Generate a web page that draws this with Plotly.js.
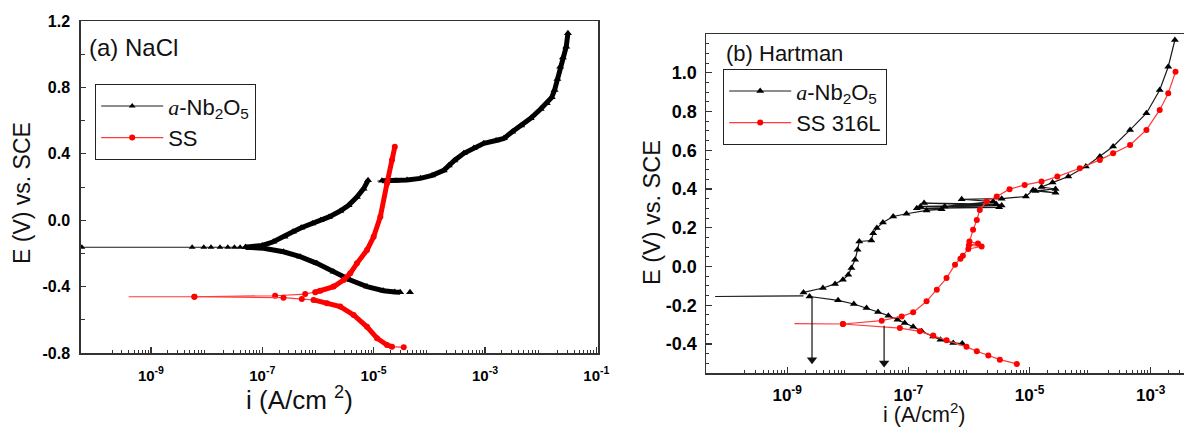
<!DOCTYPE html>
<html>
<head>
<meta charset="utf-8">
<script src="https://cdn.plot.ly/plotly-3.0.1.min.js"></script>
<style>html,body{margin:0;padding:0;background:#fff;}#chart{width:1184px;height:430px;}</style>
</head>
<body>
<div id="chart"></div>
<script>
// ---------------- Panel (a) NaCl : a-Nb2O5 (black) ----------------
const aNbSparseI = [5.75e-11, 5.5e-9, 8.9e-9, 1.2e-8, 1.74e-8, 2.4e-8, 3.16e-8, 4e-8, 5e-8];
const aNbSparseE = [-0.163, -0.163, -0.163, -0.163, -0.163, -0.163, -0.163, -0.163, -0.163];
const aNbAnoI = [5e-8, 1e-7, 1.58e-7, 2.51e-7, 3.55e-7, 5e-7, 7.94e-7, 1.12e-6, 1.58e-6, 2.51e-6, 3.55e-6, 5e-6, 6.61e-6, 7.94e-6];
const aNbAnoE = [-0.163, -0.152, -0.13, -0.1, -0.07, -0.045, -0.02, 0.0, 0.02, 0.055, 0.09, 0.14, 0.19, 0.24];
const aNbCathI = [5e-8, 1.05e-7, 2.4e-7, 4.79e-7, 9.55e-7, 1.91e-6, 3.8e-6, 7.59e-6, 1.51e-5, 2.4e-5, 3.0e-5, null, 4.5e-5];
const aNbCathE = [-0.163, -0.169, -0.19, -0.22, -0.26, -0.31, -0.36, -0.40, -0.425, -0.432, -0.434, null, -0.434];
const aNbJumpI = [1.17e-5, 1.41e-5];
const aNbJumpE = [0.236, 0.237];
const aNbPassI = [1.41e-5, 2.51e-5, 3.98e-5, 6.92e-5, 1.12e-4, 1.82e-4, 2.24e-4, 2.82e-4, 4.17e-4, 6.31e-4, 9.55e-4, 1.58e-3, 2.19e-3, 3.09e-3, 4.47e-3, 6.61e-3, 1e-2, 1.29e-2, 1.58e-2, 1.78e-2, 2.0e-2, 2.24e-2, 2.51e-2, 2.88e-2, 3.09e-2];
const aNbPassE = [0.237, 0.238, 0.242, 0.252, 0.27, 0.30, 0.33, 0.36, 0.403, 0.435, 0.463, 0.48, 0.493, 0.533, 0.57, 0.614, 0.67, 0.704, 0.74, 0.784, 0.85, 0.925, 0.98, 1.045, 1.126];

// ---------------- Panel (a) NaCl : SS (red) ----------------
const aSsLeadI = [3.98e-10, 6.03e-9];
const aSsLeadE = [-0.461, -0.461];
const aSsUpI = [6.03e-9, 1.7e-7, 5.89e-7, 8.91e-7, 1.1e-6, 1.91e-6, 2.88e-6, 3.8e-6, 5.01e-6, 7.59e-6, 1e-5, 1.32e-5, 1.74e-5, 2.14e-5, 2.4e-5];
const aSsUpE = [-0.461, -0.455, -0.445, -0.434, -0.425, -0.40, -0.36, -0.32, -0.26, -0.18, -0.10, 0.021, 0.222, 0.363, 0.443];
const aSsLowI = [6.03e-9, 2.4e-7, 5.13e-7, 8.32e-7, 1.45e-6, 2.51e-6, 4.37e-6, 7.59e-6, 1.15e-5, 1.74e-5, 2.14e-5, 3.47e-5];
const aSsLowE = [-0.461, -0.467, -0.475, -0.48, -0.50, -0.52, -0.571, -0.642, -0.711, -0.752, -0.762, -0.766];

// ---------------- Panel (b) Hartman : a-Nb2O5 (black) ----------------
const bNbLeadI = [6.46e-11, 1.86e-9];
const bNbLeadE = [-0.155, -0.152];
const bNbAnoI = [1.86e-9, 3.89e-9, 6.17e-9, 8.32e-9, 1.02e-8, 1.15e-8, 1.32e-8, 1.45e-8, 1.55e-8, 2.45e-8, 2.63e-8, 3.02e-8, 3.8e-8, 5.62e-8, 9.33e-8, 2.0e-7,
  3.55e-7, 1.38e-7, 3.16e-6, 1.58e-7, 3.47e-6, 1.82e-7, 2.82e-6, 3.98e-7, 2.51e-6, 7.59e-7, 3.47e-6, 8.71e-6,
  1.15e-5, 2.69e-5, 1.26e-5, 2.69e-5, 1.58e-5, 2.4e-5, 4.37e-5, 8.51e-5, 1.45e-4, 2.4e-4, 4.57e-4, 8.51e-4, 1.41e-3, 1.95e-3, 2.51e-3];
const bNbAnoE = [-0.134, -0.111, -0.09, -0.069, -0.043, -0.008, 0.035, 0.086, 0.129, 0.134, 0.172, 0.198, 0.227, 0.258, 0.272, 0.289,
  0.295, 0.30, 0.305, 0.31, 0.315, 0.327, 0.322, 0.31, 0.335, 0.347, 0.35, 0.361,
  0.395, 0.38, 0.39, 0.40, 0.41, 0.433, 0.464, 0.516, 0.567, 0.619, 0.705, 0.791, 0.911, 1.031, 1.169];
const bNbCathI = [2.34e-9, 6.92e-9, 1.26e-8, 2.04e-8, 3.16e-8, 4.68e-8, 6.61e-8, 8.71e-8, 1.2e-7, 1.66e-7, 2.57e-7, 3.39e-7, 5.5e-7, 7.76e-7];
const bNbCathE = [-0.155, -0.175, -0.194, -0.214, -0.235, -0.254, -0.275, -0.292, -0.311, -0.335, -0.361, -0.378, -0.395, -0.398];

// ---------------- Panel (b) Hartman : SS 316L (red) ----------------
const bSsLeadI = [1.32e-9, 8.32e-9];
const bSsLeadE = [-0.295, -0.297];
const bSsUpI = [8.32e-9, 3.63e-8, 7.76e-8, 1.2e-7, 2.0e-7, 2.95e-7, 4.27e-7, 5.89e-7, 7.94e-7, 7.24e-7, 9.77e-7, 1.62e-6, 1.0e-6, 1.41e-6, 1.02e-6, 1.17e-6, 1.35e-6, 1.51e-6, 1.95e-6, 2.88e-6, 4.68e-6, 8.32e-6, 1.58e-5, 2.88e-5, 6.76e-5, 1.45e-4, 2.4e-4, 4.57e-4, 8.51e-4, 1.41e-3, 1.95e-3, 2.57e-3];
const bSsUpE = [-0.297, -0.280, -0.258, -0.237, -0.18, -0.12, -0.06, 0.009, 0.055, 0.04, 0.09, 0.103, 0.11, 0.118, 0.129, 0.189, 0.24, 0.292, 0.335, 0.361, 0.399, 0.421, 0.438, 0.464, 0.507, 0.55, 0.585, 0.627, 0.705, 0.808, 0.894, 1.005];
const bSsLowI = [8.32e-9, 7.24e-8, 1.55e-7, 2.57e-7, 4.27e-7, 9.12e-7, 1.35e-6, 2.09e-6, 3.24e-6, 6.17e-6];
const bSsLowE = [-0.297, -0.318, -0.335, -0.357, -0.381, -0.415, -0.438, -0.46, -0.481, -0.503];

// corrosion-current arrows in panel (b)
const arrowI = [2.57e-9, 3.98e-8];
const arrowTopE = [-0.163, -0.306];
const arrowTipE = [-0.481, -0.498];

// ---------------- labels ----------------
const seriesNames = ['<span style="font-family:\'Liberation Serif\'"><i>a</i></span>-Nb<sub>2</sub>O<sub>5</sub>', 'SS', 'SS 316L'];
const panelLabels = ['(a) NaCl', '(b) Hartman'];
const yTitle = 'E (V) vs. SCE';
const xTitleA = 'i (A/cm <sup>2</sup>)';
const xTitleB = 'i (A/cm<sup>2</sup>)';
const aLabelDecades = [-9, -7, -5, -3, -1];
const aPlainDecades = [-10, -8, -6, -4, -2];
const aDecadeLabels = ['10<sup>-9</sup>', '10<sup>-7</sup>', '10<sup>-5</sup>', '10<sup>-3</sup>', '10<sup>-1</sup>'];
const bLabelDecades = [-9, -7, -5, -3];
const bPlainDecades = [-10, -8, -6, -4];
const bDecadeLabels = ['10<sup>-9</sup>', '10<sup>-7</sup>', '10<sup>-5</sup>', '10<sup>-3</sup>'];
const aYTicks = [-0.8, -0.4, 0.0, 0.4, 0.8, 1.2];
const aYLabels = ['-0.8', '-0.4', '0.0', '0.4', '0.8', '1.2'];
const bYTicks = [-0.4, -0.2, 0.0, 0.2, 0.4, 0.6, 0.8, 1.0];
const bYLabels = ['-0.4', '-0.2', '0.0', '0.2', '0.4', '0.6', '0.8', '1.0'];

// ---------------- styles ----------------
const BLK = '#000000', BLKLINE = '#1a1a1a', RED = '#ff0000', REDLINE = '#ff3b3b';
const AXC = '#333333';
const FONT = 'Liberation Sans, Arial, sans-serif';
const bold = s => '<b>' + s + '</b>';

function minorVals(decs) {
  const out = [];
  const lo = Math.min(...decs) - 1, hi = Math.max(...decs);
  for (let d = lo; d <= hi; d++) for (let m = 2; m <= 9; m++) out.push(m * Math.pow(10, d));
  return out;
}

const traces = [
  // panel a black
  {x: aNbSparseI, y: aNbSparseE, xaxis: 'x', yaxis: 'y', mode: 'lines+markers', name: seriesNames[0],
   legend: 'legend', legendgroup: 'anb', line: {color: BLKLINE, width: 1}, marker: {symbol: 'triangle-up', size: 6, color: BLK}},
  {x: aNbAnoI, y: aNbAnoE, xaxis: 'x', yaxis: 'y', mode: 'lines+markers', showlegend: false, legendgroup: 'anb',
   line: {color: BLK, width: 5}, marker: {symbol: 'triangle-up', size: 7, color: BLK}},
  {x: aNbCathI, y: aNbCathE, xaxis: 'x', yaxis: 'y', mode: 'lines+markers', showlegend: false, legendgroup: 'anb',
   line: {color: BLK, width: 5}, marker: {symbol: 'triangle-up', size: 7, color: BLK}, connectgaps: false},
  {x: aNbJumpI, y: aNbJumpE, xaxis: 'x', yaxis: 'y', mode: 'lines', showlegend: false, legendgroup: 'anb',
   line: {color: BLKLINE, width: 1}},
  {x: aNbPassI, y: aNbPassE, xaxis: 'x', yaxis: 'y', mode: 'lines+markers', showlegend: false, legendgroup: 'anb',
   line: {color: BLK, width: 5}, marker: {symbol: 'triangle-up', size: 7, color: BLK}},
  // panel a red
  {x: aSsLeadI, y: aSsLeadE, xaxis: 'x', yaxis: 'y', mode: 'lines', showlegend: false, legendgroup: 'ass',
   line: {color: REDLINE, width: 1.2}},
  {x: aSsUpI, y: aSsUpE, xaxis: 'x', yaxis: 'y', mode: 'lines+markers', name: seriesNames[1],
   legend: 'legend', legendgroup: 'ass', line: {color: REDLINE, width: 1.2}, marker: {symbol: 'circle', size: 6, color: RED}},
  {x: aSsLowI, y: aSsLowE, xaxis: 'x', yaxis: 'y', mode: 'lines+markers', showlegend: false, legendgroup: 'ass',
   line: {color: REDLINE, width: 1.2}, marker: {symbol: 'circle', size: 6, color: RED}},
  {x: aSsUpI.slice(3), y: aSsUpE.slice(3), xaxis: 'x', yaxis: 'y', mode: 'lines', showlegend: false, legendgroup: 'ass',
   line: {color: RED, width: 5}},
  {x: aSsLowI.slice(3, 11), y: aSsLowE.slice(3, 11), xaxis: 'x', yaxis: 'y', mode: 'lines', showlegend: false, legendgroup: 'ass',
   line: {color: RED, width: 5}},
  // panel b black
  {x: bNbLeadI, y: bNbLeadE, xaxis: 'x2', yaxis: 'y2', mode: 'lines', showlegend: false, legendgroup: 'bnb',
   line: {color: BLKLINE, width: 1.2}},
  {x: bNbAnoI, y: bNbAnoE, xaxis: 'x2', yaxis: 'y2', mode: 'lines+markers', name: seriesNames[0],
   legend: 'legend2', legendgroup: 'bnb', line: {color: BLKLINE, width: 1.2}, marker: {symbol: 'triangle-up', size: 7, color: BLK}},
  {x: bNbCathI, y: bNbCathE, xaxis: 'x2', yaxis: 'y2', mode: 'lines+markers', showlegend: false, legendgroup: 'bnb',
   line: {color: BLKLINE, width: 1.2}, marker: {symbol: 'triangle-up', size: 7, color: BLK}},
  // panel b red
  {x: bSsLeadI, y: bSsLeadE, xaxis: 'x2', yaxis: 'y2', mode: 'lines', showlegend: false, legendgroup: 'bss',
   line: {color: REDLINE, width: 1.2}},
  {x: bSsUpI, y: bSsUpE, xaxis: 'x2', yaxis: 'y2', mode: 'lines+markers', name: seriesNames[2],
   legend: 'legend2', legendgroup: 'bss', line: {color: REDLINE, width: 1.2}, marker: {symbol: 'circle', size: 6, color: RED}},
  {x: bSsLowI, y: bSsLowE, xaxis: 'x2', yaxis: 'y2', mode: 'lines+markers', showlegend: false, legendgroup: 'bss',
   line: {color: REDLINE, width: 1.2}, marker: {symbol: 'circle', size: 6, color: RED}}
];

// arrows (shafts + heads) in panel (b)
const shaftX = [], shaftY = [];
arrowI.forEach((v, k) => { shaftX.push(v, v, null); shaftY.push(arrowTopE[k], arrowTipE[k], null); });
traces.push({x: shaftX, y: shaftY, xaxis: 'x2', yaxis: 'y2', mode: 'lines', showlegend: false,
  line: {color: '#111', width: 1.2}, connectgaps: false});
traces.push({x: arrowI, y: arrowTipE, xaxis: 'x2', yaxis: 'y2', mode: 'markers', showlegend: false,
  marker: {symbol: 'triangle-down', size: 9, color: '#111', line: {width: 0}}});

const tickFontAX = {family: FONT, size: 15, color: '#000'};
const tickFontAY = {family: FONT, size: 16, color: '#000'};
const tickFontBX = {family: FONT, size: 17, color: '#000'};
const tickFontBY = {family: FONT, size: 18, color: '#000'};

function xAxis(dom, rng, labDecs, labels, font, anchor, standoff) {
  return {
    domain: dom, type: 'log', range: rng, anchor: anchor,
    tickmode: 'array', tickvals: labDecs.map(d => Math.pow(10, d)), ticktext: labels.map(bold),
    ticks: 'inside', ticklen: 6, tickwidth: 1.2, tickcolor: AXC, tickfont: font, ticklabelstandoff: standoff,
    minor: {tickmode: 'array', tickvals: minorVals(labDecs), ticks: 'inside', ticklen: 3, tickwidth: 1, tickcolor: AXC},
    showline: true, linecolor: AXC, linewidth: 1.5, mirror: true, showgrid: false, zeroline: false
  };
}
function evenAxis(base, rng, decs, anchor) {
  return {overlaying: base, anchor: anchor, type: 'log', range: rng, side: 'bottom',
    tickmode: 'array', tickvals: decs.map(d => Math.pow(10, d)), showticklabels: false,
    ticks: 'inside', ticklen: 6, tickwidth: 1.2, tickcolor: AXC,
    showline: false, showgrid: false, zeroline: false};
}

const annotations = [
  {text: panelLabels[0], xref: 'paper', yref: 'paper', x: 87 / 1184, y: 1 - 47 / 430, xanchor: 'left', yanchor: 'middle',
   showarrow: false, font: {family: FONT, size: 24, color: '#111'}},
  {text: panelLabels[1], xref: 'paper', yref: 'paper', x: 724 / 1184, y: 1 - 53 / 430, xanchor: 'left', yanchor: 'middle',
   showarrow: false, font: {family: FONT, size: 22, color: '#111'}},
  {text: yTitle, xref: 'paper', yref: 'paper', x: 22 / 1184, y: 1 - 193 / 430, xanchor: 'center', yanchor: 'middle',
   textangle: -90, showarrow: false, font: {family: FONT, size: 23, color: '#111'}},
  {text: yTitle, xref: 'paper', yref: 'paper', x: 652 / 1184, y: 1 - 213 / 430, xanchor: 'center', yanchor: 'middle',
   textangle: -90, showarrow: false, font: {family: FONT, size: 23.5, color: '#111'}},
  {text: xTitleA, xref: 'paper', yref: 'paper', x: 299 / 1184, y: 1 - 398 / 430, xanchor: 'center', yanchor: 'middle',
   showarrow: false, font: {family: FONT, size: 26, color: '#111'}},
  {text: xTitleB, xref: 'paper', yref: 'paper', x: 924 / 1184, y: 1 - 429 / 430, xanchor: 'center', yanchor: 'bottom',
   showarrow: false, font: {family: FONT, size: 21.5, color: '#111'}}
];

const legendStyle = {xanchor: 'left', yanchor: 'top', bgcolor: 'rgba(255,255,255,1)', bordercolor: '#222', borderwidth: 1.2,
  font: {family: FONT, size: 22, color: '#111'}, traceorder: 'grouped', tracegroupgap: 0, itemwidth: 62};

const layout = {
  width: 1184, height: 430, margin: {l: 0, r: 0, t: 0, b: 0},
  paper_bgcolor: '#ffffff', plot_bgcolor: '#ffffff', showlegend: true,
  xaxis: xAxis([80.8 / 1184, 598 / 1184], [-10.26, -0.97], aLabelDecades, aDecadeLabels, tickFontAX, 'y', 8),
  xaxis3: evenAxis('x', [-10.26, -0.97], aPlainDecades, 'y'),
  yaxis: {domain: [1 - 353 / 430, 1 - 21 / 430], range: [-0.8, 1.2], anchor: 'x',
    tickmode: 'array', tickvals: aYTicks, ticktext: aYLabels.map(bold), ticks: 'inside', ticklen: 5, tickwidth: 1.2, tickcolor: AXC,
    tickfont: tickFontAY, ticklabelstandoff: 6,
    minor: {dtick: 0.2, tick0: 0, ticks: 'inside', ticklen: 4, tickwidth: 1, tickcolor: AXC},
    showline: true, linecolor: AXC, linewidth: 1.5, mirror: true, showgrid: false, zeroline: false},
  xaxis2: xAxis([706 / 1184, 1], [-10.34, -2.45], bLabelDecades, bDecadeLabels, tickFontBX, 'y2', 6),
  xaxis4: evenAxis('x2', [-10.34, -2.45], bPlainDecades, 'y2'),
  yaxis2: {domain: [1 - 373 / 430, 1 - 34 / 430], range: [-0.55, 1.2], anchor: 'x2',
    tickmode: 'array', tickvals: bYTicks, ticktext: bYLabels.map(bold), ticks: 'inside', ticklen: 6, tickwidth: 1.2, tickcolor: AXC,
    tickfont: tickFontBY, ticklabelstandoff: 4,
    minor: {dtick: 0.05, tick0: 0, ticks: 'inside', ticklen: 3, tickwidth: 1, tickcolor: AXC},
    showline: true, linecolor: AXC, linewidth: 1.5, mirror: false, showgrid: false, zeroline: false},
  legend: Object.assign({x: 95 / 1184, y: 1 - 84 / 430}, legendStyle),
  legend2: Object.assign({x: 723 / 1184, y: 1 - 69 / 430}, legendStyle),
  annotations: annotations
};

Plotly.newPlot('chart', traces, layout, {staticPlot: true, displayModeBar: false});
</script>
</body>
</html>
